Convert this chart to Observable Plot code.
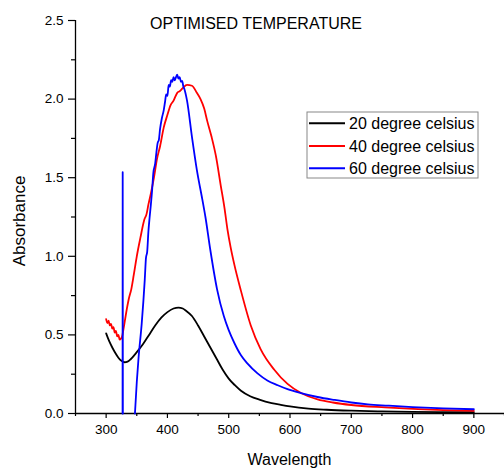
<!DOCTYPE html>
<html>
<head>
<meta charset="utf-8">
<script src="https://cdn.jsdelivr.net/npm/d3@7"></script>
<script src="https://cdn.jsdelivr.net/npm/@observablehq/plot@0.6"></script>
<style>
  html, body { margin: 0; padding: 0; background: #fff; }
  #chart { width: 504px; height: 468px; }
</style>
</head>
<body>
<div id="chart"></div>
<script>
// ---- Data ----
const title = "OPTIMISED TEMPERATURE";
const xLabel = "Wavelength";
const yLabel = "Absorbance";
const seriesNames = ["20 degree celsius", "40 degree celsius", "60 degree celsius"];
const seriesColors = ["#000000", "#ff0000", "#0000ff"];

const xTicks = [300, 400, 500, 600, 700, 800, 900];
const xMinorTicks = [250, 350, 450, 550, 650, 750, 850, 950];
const yTicks = [0, 0.5, 1.0, 1.5, 2.0, 2.5];
const yMinorTicks = [0.25, 0.75, 1.25, 1.75, 2.25];

// 20 degree celsius
const wl20 = [300, 305, 310, 315, 320, 325, 330, 335, 340, 350, 360, 370, 380, 390, 400, 410, 418, 425, 430, 440, 450, 460, 470, 480, 490, 500, 510, 520, 535, 550, 570, 585, 600, 630, 660, 700, 750, 800, 850, 900];
const abs20 = [0.51, 0.46, 0.42, 0.385, 0.355, 0.335, 0.326, 0.33, 0.345, 0.39, 0.44, 0.5, 0.56, 0.61, 0.645, 0.668, 0.674, 0.668, 0.655, 0.62, 0.56, 0.49, 0.42, 0.35, 0.28, 0.222, 0.18, 0.145, 0.11, 0.088, 0.066, 0.055, 0.045, 0.031, 0.024, 0.018, 0.013, 0.01, 0.009, 0.008];

// 40 degree celsius
const wl40 = [300, 302, 304, 306, 308, 310, 312, 314, 316, 318, 320, 322, 324, 326, 328, 331, 334, 337, 341, 345, 350, 356, 362, 366, 369, 373, 378, 383, 388, 394, 400, 405, 410, 416, 420, 425, 432, 440, 448, 454, 460, 465, 472, 479, 487, 493, 498, 503, 509, 520, 536, 552, 574, 596, 618, 645, 670, 700, 755, 809, 850, 900];
const abs40 = [0.60, 0.575, 0.59, 0.56, 0.57, 0.54, 0.55, 0.515, 0.525, 0.49, 0.50, 0.47, 0.475, 0.49, 0.53, 0.60, 0.67, 0.73, 0.79, 0.88, 1.0, 1.12, 1.23, 1.27, 1.33, 1.40, 1.50, 1.62, 1.70, 1.82, 1.90, 1.96, 1.99, 2.04, 2.05, 2.07, 2.09, 2.085, 2.04, 2.0, 1.94, 1.86, 1.76, 1.64, 1.45, 1.31, 1.17, 1.06, 0.95, 0.78, 0.56, 0.41, 0.28, 0.188, 0.13, 0.09, 0.07, 0.054, 0.039, 0.028, 0.022, 0.017];

// 60 degree celsius (spike near 327 nm, then main band from 347 nm)
const spikeWl60 = [326.8, 327, 327.3];
const spikeAbs60 = [0, 1.535, 0];
const wl60 = [347, 350, 353, 358, 363, 365, 367, 369, 371, 373, 375, 377, 380, 382, 384, 386, 388, 391, 394, 396, 398, 400, 402, 404, 406, 408, 410, 412, 414, 416, 418, 420, 422, 424, 426, 428, 432, 440, 448, 457, 462, 470, 481, 492, 500, 509, 520, 530, 547, 563, 580, 596, 618, 645, 673, 700, 727, 760, 800, 850, 900];
const abs60 = [0, 0.2, 0.36, 0.57, 0.85, 0.99, 1.03, 1.16, 1.25, 1.33, 1.42, 1.53, 1.59, 1.66, 1.72, 1.74, 1.81, 1.88, 1.93, 1.98, 2.03, 2.02, 2.09, 2.08, 2.12, 2.11, 2.14, 2.12, 2.14, 2.155, 2.13, 2.14, 2.11, 2.115, 2.08, 2.06, 1.99, 1.76, 1.55, 1.36, 1.25, 1.04, 0.79, 0.62, 0.53, 0.45, 0.37, 0.32, 0.255, 0.21, 0.18, 0.155, 0.13, 0.105, 0.086, 0.07, 0.058, 0.05, 0.041, 0.033, 0.027];

const rows = (w, v) => w.map((x, i) => ({w: x, v: v[i]}));
const d20 = rows(wl20, abs20);
const d40 = rows(wl40, abs40);
const d60 = rows(wl60, abs60);
const d60spike = rows(spikeWl60, spikeAbs60);

const font = "'Liberation Sans', Arial, sans-serif";

const plot = Plot.plot({
  width: 504,
  height: 468,
  marginTop: 20,
  marginBottom: 55,
  marginLeft: 75,
  marginRight: 0,
  style: {fontFamily: font, fontSize: "13px", color: "#000", background: "#fff", overflow: "visible"},
  x: {domain: [250, 950]},
  y: {domain: [0, 2.5]},
  marks: [
    Plot.axisX({ticks: xTicks, tickSize: 5, tickPadding: 6, tickFormat: d3.format("d"), fontSize: 13.5, label: null, strokeWidth: 1.2}),
    Plot.axisX({ticks: xMinorTicks, tickSize: 3, tickFormat: () => "", label: null, strokeWidth: 1.2}),
    Plot.axisY({ticks: yTicks, tickSize: 7, tickPadding: 5, tickFormat: d3.format(".1f"), fontSize: 13.5, label: null, strokeWidth: 1.2}),
    Plot.axisY({ticks: yMinorTicks, tickSize: 4, tickFormat: () => "", label: null, strokeWidth: 1.2}),
    Plot.ruleX([250], {stroke: "#000", strokeWidth: 1.3}),
    Plot.ruleY([0], {stroke: "#000", strokeWidth: 1.3}),
    Plot.line(d20, {x: "w", y: "v", stroke: seriesColors[0], strokeWidth: 1.8, curve: "monotone-x"}),
    Plot.line(d40, {x: "w", y: "v", stroke: seriesColors[1], strokeWidth: 1.8, curve: "monotone-x"}),
    Plot.line(d60, {x: "w", y: "v", stroke: seriesColors[2], strokeWidth: 1.8, curve: "monotone-x"}),
    Plot.line(d60spike, {x: "w", y: "v", stroke: seriesColors[2], strokeWidth: 1.8})
  ]
});

document.getElementById("chart").appendChild(plot);

// ---- Annotations: title, axis labels, legend ----
const svg = d3.select(plot);
const g = svg.append("g").attr("font-family", font).attr("fill", "#000");

g.append("text").attr("x", 256).attr("y", 29).attr("text-anchor", "middle")
  .attr("font-size", 16).text(title);
g.append("text").attr("x", 289.5).attr("y", 465).attr("text-anchor", "middle")
  .attr("font-size", 16).text(xLabel);
g.append("text").attr("transform", "translate(24.5,221) rotate(-90)").attr("text-anchor", "middle")
  .attr("font-size", 17).text(yLabel);

const leg = svg.append("g").attr("font-family", font).attr("text-anchor", "start");
leg.append("rect").attr("x", 307).attr("y", 112).attr("width", 171).attr("height", 66)
  .attr("fill", "#fff").attr("stroke", "#888").attr("stroke-width", 1);
const rowY = [123.3, 146, 168.3];
seriesNames.forEach((name, i) => {
  leg.append("line").attr("x1", 309).attr("x2", 345).attr("y1", rowY[i]).attr("y2", rowY[i])
    .attr("stroke", seriesColors[i]).attr("stroke-width", 2);
  leg.append("text").attr("x", 349).attr("y", rowY[i] + 5.8).attr("font-size", 16)
    .attr("text-anchor", "start").attr("fill", "#000").text(name);
});
</script>
</body>
</html>
